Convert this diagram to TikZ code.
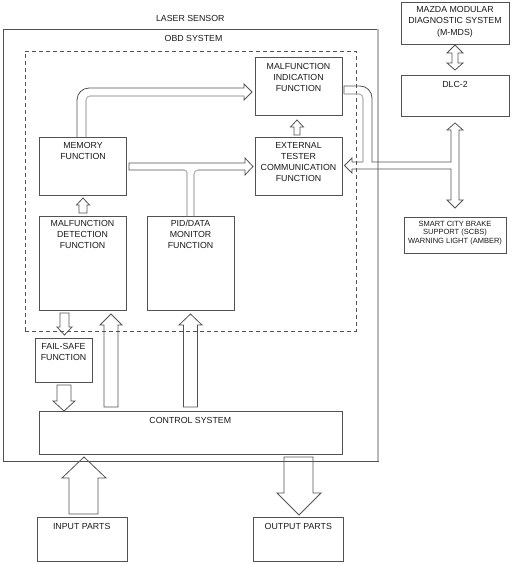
\documentclass[tikz,border=0pt]{standalone}
\usepackage{fontspec}
\setmainfont{Liberation Sans}
\begin{document}
\begin{tikzpicture}[x=1pt,y=-1pt,
  ln/.style={draw=black!68, line width=0.8pt},
  sh/.style={draw=black!30, line width=1.1pt},
  box/.style={ln, rectangle, inner sep=0pt, outer sep=0pt},
  obdbox/.style={draw=black!68, line width=0.7pt, dash pattern=on 4pt off 3pt, rectangle, inner sep=0pt, outer sep=0pt},
  lbl/.style={inner sep=0pt, align=center, font=\fontsize{8.8}{11}\selectfont, text=black!90},
  lblsmall/.style={inner sep=0pt, align=center, font=\fontsize{7.5}{8.8}\selectfont, text=black!90},
  arr/.style={ln, line join=miter}]
\useasboundingbox (0,0) rectangle (511,564);

% boxes
\node[box, minimum width=375, minimum height=432] (laser) at (190.5,245) {};
\node[obdbox, minimum width=331, minimum height=280] (obd) at (190.5,191) {};
\node[box, minimum width=87, minimum height=58] (mif) at (298.5,86) {};
\node[box, minimum width=87, minimum height=58] (ext) at (298.5,166) {};
\node[box, minimum width=87, minimum height=58] (mem) at (82.5,166) {};
\node[box, minimum width=87, minimum height=94] (det) at (82.5,263) {};
\node[box, minimum width=87, minimum height=94] (pid) at (190.5,263) {};
\node[box, minimum width=57, minimum height=44] (fs) at (63.5,360) {};
\node[box, minimum width=303, minimum height=43] (ctrl) at (190.5,432.5) {};
\node[box, minimum width=90, minimum height=44] (inp) at (82,539) {};
\node[box, minimum width=90, minimum height=44] (outp) at (298,539) {};
\node[box, minimum width=108, minimum height=42] (mazda) at (455,23) {};
\node[box, minimum width=108, minimum height=41] (dlc) at (455,95.5) {};
\node[box, minimum width=102, minimum height=36] (scbs) at (455,235) {};
\draw[sh, line width=1.8pt, draw=black!28] (laser.north east) -- (laser.south east);

% labels
\node[lbl] (laserT) at (190.3,18) {LASER SENSOR};
\node[lbl] (obdT) at (193.5,38.3) {OBD SYSTEM};
\node[lbl, anchor=north] (mifT) at (298.5,63.2) {MALFUNCTION\\INDICATION\\FUNCTION};
\node[lbl, anchor=north] (extT) at (298.5,142.5) {EXTERNAL\\TESTER\\COMMUNICATION\\FUNCTION};
\node[lbl, anchor=north] (memT) at (83,142.5) {MEMORY\\FUNCTION};
\node[lbl, anchor=north] (detT) at (82.5,220.2) {MALFUNCTION\\DETECTION\\FUNCTION};
\node[lbl, anchor=north] (pidT) at (190.5,220.2) {PID/DATA\\MONITOR\\FUNCTION};
\node[lbl, anchor=north] (fsT) at (63.5,343.5) {FAIL-SAFE\\FUNCTION};
\node[lbl] (ctrlT) at (190.3,420.7) {CONTROL SYSTEM};
\node[lbl] (inpT) at (81.7,526.7) {INPUT PARTS};
\node[lbl] (outpT) at (298.3,526.7) {OUTPUT PARTS};
\node[lbl, anchor=north, font=\fontsize{8.8}{11.6}\selectfont] (mazdaT) at (455,5.9) {MAZDA MODULAR\\DIAGNOSTIC SYSTEM\\(M-MDS)};
\node[lbl] (dlcT) at (455,84.7) {DLC-2};
\node[lblsmall, anchor=north] (scbsT) at (455,220.6) {SMART CITY BRAKE\\SUPPORT (SCBS)\\WARNING LIGHT (AMBER)};

% mazda <-> dlc
\draw[arr] (455,45) -- (463,53) -- (458,53) -- (458,63) -- (463,63) -- (455,70) -- (447,63) -- (452,63) -- (452,53) -- (447,53) -- cycle;

% memory -> malfunction indication
\draw[arr] (77,137) -- (77,100) .. controls (77,93.4) and (82.4,88) .. (89,88) -- (244,88) -- (244,84) -- (252,92) -- (244,100) -- (244,96);
\draw[sh] (244,96) -- (90,96) .. controls (87.8,96) and (86,97.8) .. (86,100) -- (86,137);

% memory -> external tester, with PID branch
\draw[arr] (184,170) -- (129,170) -- (129,163) -- (245,163) -- (245,158) -- (253,166.5) -- (245,175) -- (245,170) -- (198,170);
\draw[sh] (198,170) .. controls (195.8,170) and (194,171.8) .. (194,174) -- (194,216);
\draw[sh] (187,216) -- (187,173) .. controls (187,171.3) and (185.7,170) .. (184,170);

% external tester -> malfunction indication
\draw[arr] (294,135) -- (294,127) -- (290.5,127) -- (297,120) -- (303.5,127) -- (300,127) -- (300,135) -- cycle;

% detection -> memory
\draw[arr] (79,213) -- (79,205) -- (76.5,205) -- (83,198) -- (89.5,205) -- (87,205) -- (87,213) -- cycle;

% detection -> fail-safe
\draw[arr] (60,313) -- (60,327) -- (57,327) -- (64.5,335) -- (72,327) -- (69,327) -- (69,313) -- cycle;

% fail-safe -> control
\draw[arr] (57,385) -- (57,401) -- (53,401) -- (64,411) -- (75,401) -- (71,401) -- (71,385) -- cycle;

% control -> detection
\draw[arr] (104,407) -- (104,325) -- (100,325) -- (111,314) -- (122,325) -- (118,325) -- (118,407) -- cycle;

% control -> PID
\draw[arr] (183.5,407) -- (183.5,325) -- (179,325) -- (190.5,314) -- (202,325) -- (197.5,325) -- (197.5,407) -- cycle;

% input -> control
\draw[arr] (69,514) -- (69,478) -- (62,478) -- (84,457) -- (106,478) -- (98,478) -- (98,514) -- cycle;

% control -> output
\draw[arr] (284,457) -- (284,493) -- (277,493) -- (299,515) -- (321,493) -- (313,493) -- (313,457) -- cycle;

% communication bus
\draw[arr] (344,94) -- (344,86) -- (360,86) .. controls (366.6,86) and (372,91.4) .. (372,98) -- (372,162) -- (451,162) -- (451,130) -- (447,130) -- (455,123) -- (463,130) -- (459,130) -- (459,200) -- (463,200) -- (455,208) -- (447,200) -- (451,200) -- (451,169) -- (352,169) -- (352,173) -- (344.5,165.5) -- (352,158) -- (352,162) -- (363,162);
\draw[sh] (363,162) -- (363,98) .. controls (363,95.8) and (361.2,94) .. (359,94) -- (344,94);
\end{tikzpicture}
\end{document}
